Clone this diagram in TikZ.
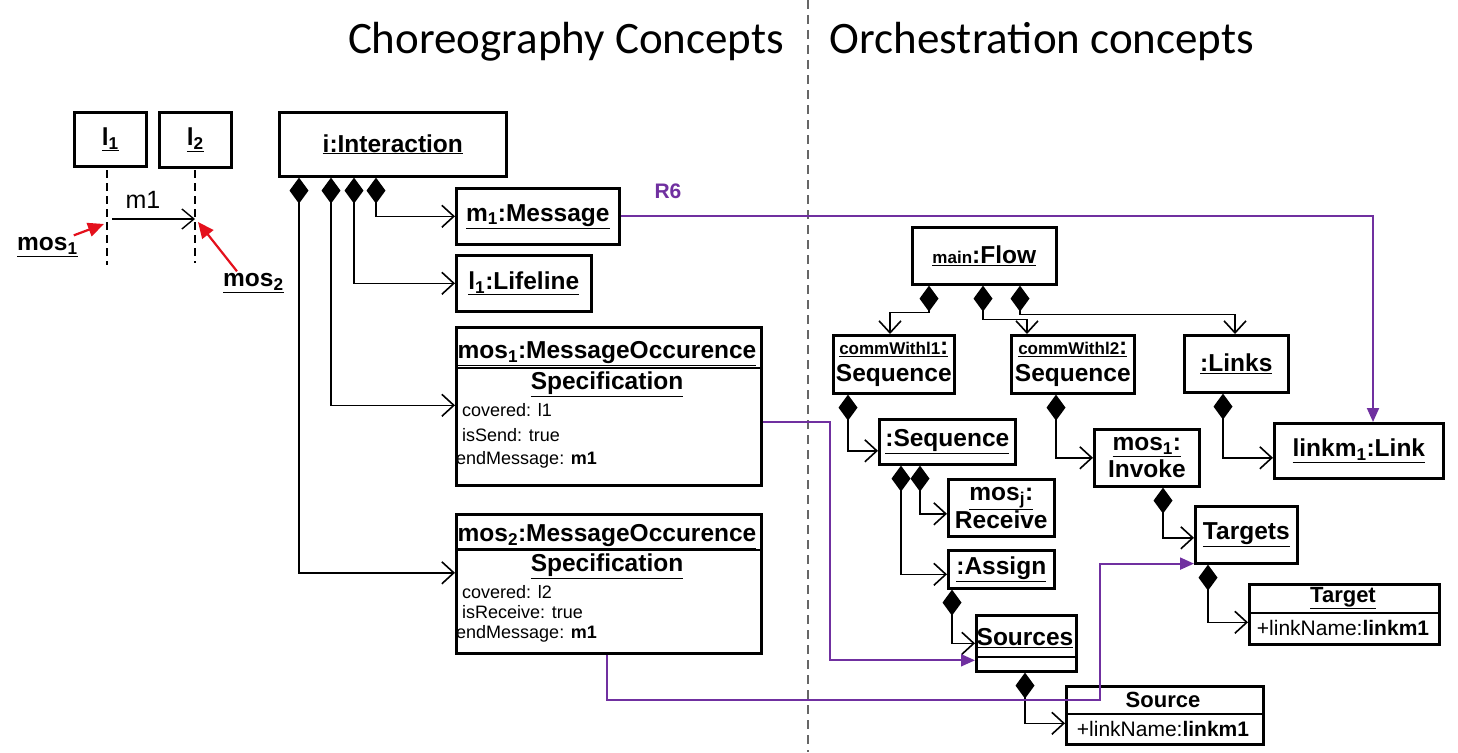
\documentclass[tikz,border=0pt]{standalone}
\usepackage{fontspec}
\setmainfont{Liberation Sans}
\newfontfamily\titlefont{Carlito}
\usetikzlibrary{arrows.meta,calc}
\definecolor{purp}{RGB}{112,48,160}
\definecolor{redarr}{RGB}{228,16,28}
\newcommand{\ulx}[1]{\underline{#1}}
\newcommand{\nmsize}{\fontsize{24.5}{27}\selectfont\bfseries}
\newcommand{\smsize}{\fontsize{17}{20}\selectfont\bfseries}
\begin{document}
\begin{tikzpicture}[x=1pt,y=-1pt,
  box/.style={draw,line width=2.6pt,inner sep=0pt,anchor=north west,align=center,font=\nmsize},
  hdr/.style={line width=2.6pt},
  nm/.style={inner sep=0pt,font=\nmsize},
  attr/.style={inner sep=0pt,anchor=west,font=\fontsize{18}{20}\selectfont},
  attr2/.style={inner sep=0pt,font=\fontsize{21}{24}\selectfont},
  comp/.style={line width=1.6pt,{Diamond[length=26pt,width=19pt,line width=0pt]}-{Straight Barb[length=12pt,width=22pt,line width=1.6pt]}},
  purparr/.style={purp,line width=2pt,-{Triangle[length=14pt,width=12pt]}},
  redline/.style={redarr,line width=2.2pt,-{Triangle[length=16pt,width=14pt]}}
]
\useasboundingbox (0,0) rectangle (1458,752);
\fill[white] (0,0) rectangle (1458,752);

% divider and titles
\draw[gray!80!black,line width=1.3pt,dash pattern=on 9pt off 6pt] (808,0) -- (808,752);
\node[inner sep=0pt,font=\titlefont\fontsize{45}{49}\selectfont] (t1) at (566,42) {Choreography Concepts};
\node[inner sep=0pt,font=\titlefont\fontsize{45}{49}\selectfont] (t2) at (1042,42) {Orchestration concepts};

% ---------- sequence sketch ----------
\node[box,minimum width=72pt,minimum height=54pt] (L1) at (73,111) {\ulx{l\textsubscript{1}}};
\node[box,minimum width=72pt,minimum height=55pt] (L2) at (158,111) {\ulx{l\textsubscript{2}}};
\coordinate (l1a) at (107,170); \coordinate (l1b) at (107,265);
\coordinate (l2a) at (195,170); \coordinate (l2b) at (195,263);
\draw[line width=2pt,dash pattern=on 8pt off 5pt] (l1a) -- (l1b);
\draw[line width=2pt,dash pattern=on 8pt off 5pt] (l2a) -- (l2b);
\coordinate (m1s) at (112,219); \coordinate (m1e) at (195,219);
\draw[line width=1.4pt,-{Straight Barb[length=12pt,width=20pt,line width=1.4pt]}] (m1s) -- (m1e);
\node[inner sep=0pt,font=\fontsize{25}{27}\selectfont] (m1lab) at (143,200) {m1};
\node[nm,anchor=west] (mos1lab) at (17,247) {\ulx{mos\textsubscript{1}}};
\node[nm,anchor=west] (mos2lab) at (223,283) {\ulx{mos\textsubscript{2}}};
\coordinate (r1) at (104,224); \coordinate (r2) at (198,222);
\draw[redline] ([xshift=-4pt,yshift=2pt]mos1lab.north east) -- (r1);
\draw[redline] ([xshift=14pt,yshift=2pt]mos2lab.north west) -- (r2);

% ---------- choreography objects ----------
\node[box,minimum width=227pt,minimum height=64pt] (ia) at (278,111) {\ulx{i:Interaction}};
\node[box,minimum width=163pt,minimum height=56pt] (msg) at (455,187) {\ulx{m\textsubscript{1}:Message}};
\node[box,minimum width=135pt,minimum height=56pt] (life) at (455,254) {\ulx{l\textsubscript{1}:Lifeline}};

\node[box,minimum width=305pt,minimum height=158pt] (mos1) at (455,326) {};
\coordinate (h1) at (0,368);
\draw[hdr] (mos1.west |- h1) -- (mos1.east |- h1);
\node[nm] (mos1n) at (607,354) {\ulx{mos\textsubscript{1}:MessageOccurence}};
\node[nm] (mos1s) at (607,384) {\ulx{Specification}};
\node[attr] (mos1a) at (462,410) {covered: l1};
\node[attr] (mos1b) at (462,435) {isSend: true};
\node[attr] (mos1c) at (456,460) {endMessage: \textbf{m1}};

\node[box,minimum width=305pt,minimum height=139pt] (mos2) at (455,513) {};
\coordinate (h2) at (0,550);
\draw[hdr] (mos2.west |- h2) -- (mos2.east |- h2);
\node[nm] (mos2n) at (607,537) {\ulx{mos\textsubscript{2}:MessageOccurence}};
\node[nm] (mos2s) at (607,566) {\ulx{Specification}};
\node[attr] (mos2a) at (462,592) {covered: l2};
\node[attr] (mos2b) at (462,612) {isReceive: true};
\node[attr] (mos2c) at (456,634) {endMessage: \textbf{m1}};

\draw[comp] ([xshift=98pt]ia.south west) |- (msg.west);
\draw[comp] ([xshift=76pt]ia.south west) |- (life.west);
\draw[comp] ([xshift=53pt]ia.south west) |- ([yshift=1pt]mos1.west);
\draw[comp] ([xshift=21pt]ia.south west) |- ([yshift=11pt]mos2.west);

% ---------- orchestration objects ----------
\node[box,minimum width=144pt,minimum height=57pt] (flow) at (911,226) {\ulx{{\smsize main}:Flow}};
\node[box,minimum width=121pt,minimum height=58pt] (cw1) at (832,334) {\ulx{{\smsize commWithl1}:}\\Sequence};
\node[box,minimum width=123pt,minimum height=58pt] (cw2) at (1010,334) {\ulx{{\smsize commWithl2}:}\\Sequence};
\node[box,minimum width=104pt,minimum height=57pt] (links) at (1183,334) {\ulx{:Links}};
\node[box,minimum width=169pt,minimum height=55pt] (link) at (1273,422) {\ulx{linkm\textsubscript{1}:Link}};
\node[box,minimum width=136pt,minimum height=45pt] (seq) at (878,418) {\ulx{:Sequence}};
\node[box,minimum width=106pt,minimum height=57pt] (recv) at (947,478) {\ulx{mos\textsubscript{j}:}\\Receive};
\node[box,minimum width=106pt,minimum height=38pt] (assign) at (947,549) {\ulx{:Assign}};
\node[box,minimum width=105pt,minimum height=57pt] (invoke) at (1093,428) {\ulx{mos\textsubscript{1}:}\\Invoke};
\node[box,minimum width=102pt,minimum height=57pt] (targets) at (1194,505) {\ulx{Targets}};

\node[box,minimum width=100pt,minimum height=56pt] (sources) at (975,614) {};
\coordinate (h3) at (0,657);
\draw[hdr] (sources.west |- h3) -- (sources.east |- h3);
\node[nm] (sourcesn) at (1025,638) {\ulx{Sources}};

\node[box,minimum width=197pt,minimum height=58pt] (source) at (1065,685) {};
\coordinate (h4) at (0,714);
\draw[hdr] (source.west |- h4) -- (source.east |- h4);
\node[inner sep=0pt,font=\fontsize{22}{25}\selectfont\bfseries] (sourcen) at (1163,700) {Source};
\node[attr2] (sourcea) at (1163,729) {+linkName:\textbf{linkm1}};

\node[box,minimum width=190pt,minimum height=60pt] (target) at (1248,583) {};
\coordinate (h5) at (0,613);
\draw[hdr] (target.west |- h5) -- (target.east |- h5);
\node[inner sep=0pt,font=\fontsize{22}{25}\selectfont\bfseries] (targetn) at (1343,598) {\ulx{Target}};
\node[attr2] (targeta) at (1343,628) {+linkName:\textbf{linkm1}};

% composition connectors (orchestration)
\draw[comp] ([xshift=18pt]flow.south west) -- ++(0,27) -| ([xshift=58pt]cw1.north west);
\draw[comp] ([xshift=72pt]flow.south west) -- ++(0,34) -| ([xshift=17pt]cw2.north west);
\draw[comp] ([xshift=109pt]flow.south west) -- ++(0,29) -| ([xshift=52pt]links.north west);
\draw[comp] ([xshift=16pt]cw1.south west) |- ([yshift=-9pt]seq.west);
\draw[comp] ([xshift=42pt]seq.south west) |- ([yshift=-6pt]recv.west);
\draw[comp] ([xshift=23pt]seq.south west) |- ([yshift=-5pt]assign.west);
\draw[comp] ([xshift=5pt]assign.south west) |- (sources.west);
\draw[comp] ([xshift=50pt]sources.south west) |- ([yshift=-8pt]source.west);
\draw[comp] ([xshift=46pt]cw2.south west) |- (invoke.west);
\draw[comp] ([xshift=70pt]invoke.south west) |- ([yshift=-3pt]targets.west);
\draw[comp] ([xshift=14pt]targets.south west) |- ([yshift=-8pt]target.west);
\draw[comp] ([xshift=40pt]links.south west) |- ([yshift=-7pt]link.west);

% ---------- purple mapping arrows ----------
\draw[purparr] (msg.east) -| ([xshift=100pt]link.north west);
\node[inner sep=0pt,text=purp,font=\fontsize{21}{24}\selectfont\bfseries] (r6) at (668,191) {R6};
\draw[purparr] ([yshift=-16pt]mos1.east) -- ++(67,0) |- ([yshift=-17pt]sources.west);
\draw[purparr] ([xshift=152pt]mos2.south west) -- ++(0,45) -| ([xshift=-94pt,yshift=1pt]targets.south west) -- ([yshift=1pt]targets.south west);
\end{tikzpicture}
\end{document}
